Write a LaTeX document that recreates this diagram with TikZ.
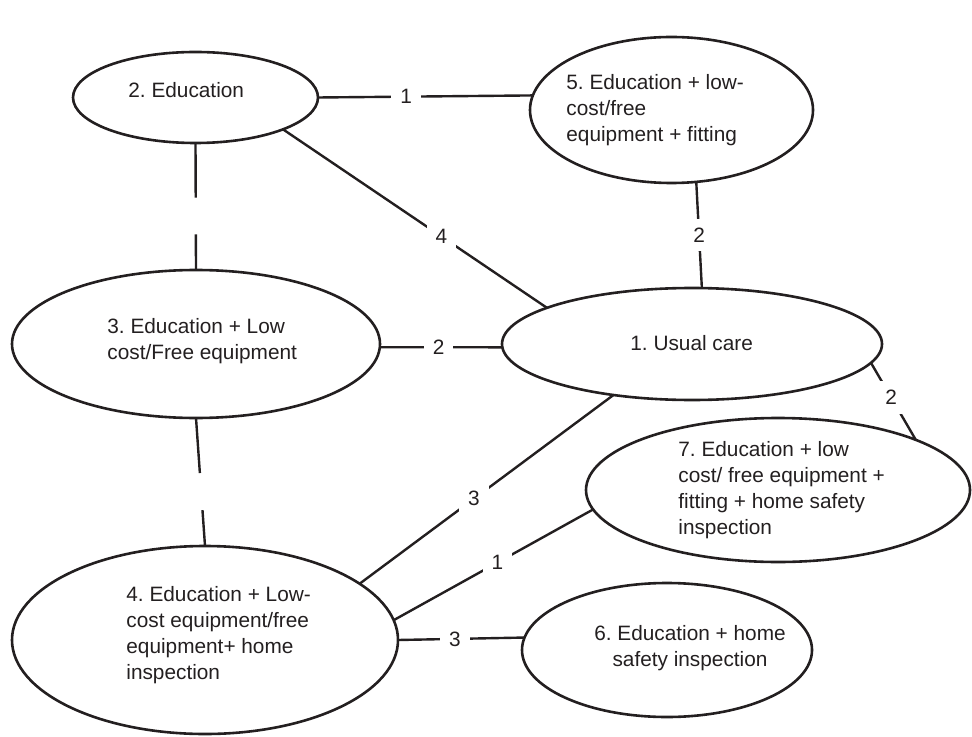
\documentclass[tikz,border=0pt]{standalone}
\usepackage{fontspec}
\setmainfont{Liberation Sans}
\usetikzlibrary{calc}
\usetikzlibrary{shapes.geometric}
\definecolor{ink}{HTML}{231F20}
\frenchspacing

\tikzset{
  ell/.style={draw=ink,line width=1.3pt,ellipse,inner sep=0pt,outer sep=0pt},
  txt/.style={text=ink,align=left,anchor=west,inner sep=0pt,
    font=\fontsize{10.4}{13}\selectfont},
  lbl/.style={fill=white,text=ink,inner sep=4.5pt,
    font=\fontsize{10.4}{13}\selectfont},
  con/.style={draw=ink,line width=1.2pt}
}

\begin{document}
\begin{tikzpicture}[x=.5pt,y=-.5pt]
\useasboundingbox (0,0) rectangle (972,737);

% the seven options
\node[ell,minimum width=190pt,minimum height=56pt] (e1) at (692,344) {};
\node[ell,minimum width=122.5pt,minimum height=45.5pt] (e2) at (195.5,97.5) {};
\node[ell,minimum width=184pt,minimum height=74pt] (e3) at (196,344) {};
\node[ell,minimum width=193pt,minimum height=94pt] (e4) at (205,640) {};
\node[ell,minimum width=141.5pt,minimum height=73pt] (e5) at (671.5,110) {};
\node[ell,minimum width=145pt,minimum height=67pt] (e6) at (667,650) {};
\node[ell,minimum width=192pt,minimum height=72pt] (e7) at (778,490) {};

\node[txt] (t1) at (630,343) {1. Usual care};
\node[txt] (t2) at (128,90) {2. Education};
\node[txt] (t3) at (107,341) {3. Education + Low\\cost/Free equipment};
\node[txt] (t4) at (126,635.5) {4. Education + Low-\\cost equipment/free\\equipment+ home\\inspection};
\node[txt] (t5) at (566,110) {5. Education + low-\\cost/free\\equipment + fitting};
\node[txt,align=center,anchor=center] (t6) at (690,648) {6. Education + home\\safety inspection};
\node[txt] (t7) at (678,490) {7. Education + low\\cost/ free equipment +\\fitting + home safety\\inspection};

% links
\draw[con] (e2.east) -- node[lbl,pos=.41] {1} (e5.174);
\draw[con] (e2.-20.6) -- node[lbl,pos=.6] {4} (e1.166.7);
\draw[con] (e5.-71) -- node[lbl,pos=.5] {2} (e1.80);
\draw[con] (e3.-1) -- node[lbl,pos=.48] {2} (e1.181);
\draw[con] (e1.-6.5) -- node[lbl,pos=.45] {2} (e7.20);
\draw[con] (e1.213.4) -- node[lbl,pos=.55] {3} (e4.20);
\draw[con] (e7.186) -- node[lbl,pos=.48] {1} (e4.6);
\draw[con] (e4.east) -- node[lbl,pos=.45] {3} (e6.175);

% open links
\draw[con] (e2.south) -- ($ (e2.south)!.43!(e3.north) $);
\draw[con] ($ (e2.south)!.72!(e3.north) $) -- (e3.north);
\draw[con] (e3.south) -- ($ (e3.south)!.43!(e4.north) $);
\draw[con] ($ (e3.south)!.72!(e4.north) $) -- (e4.north);
\end{tikzpicture}
\end{document}
